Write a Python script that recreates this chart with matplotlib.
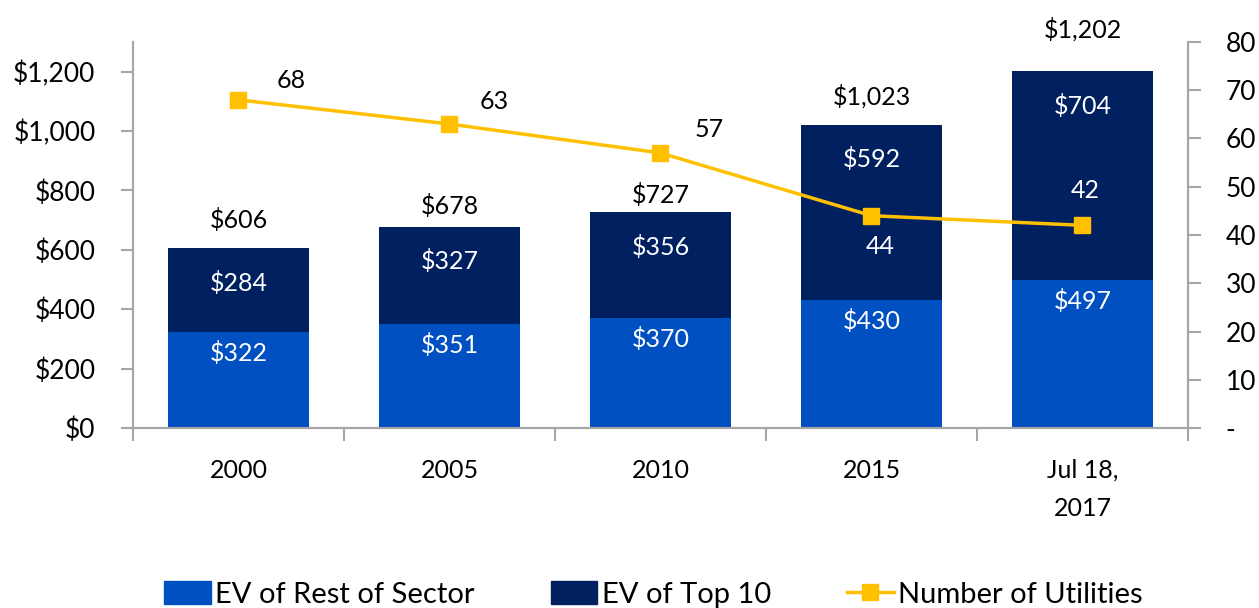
import numpy as np
import matplotlib.pyplot as plt
from matplotlib.patches import Patch
from matplotlib.lines import Line2D

plt.rcParams['font.family'] = ['Lato', 'DejaVu Sans']

# data
categories = ['2000', '2005', '2010', '2015', 'Jul 18,\n2017']
rest_of_sector = [322, 351, 370, 430, 497]
top_10 = [284, 327, 356, 592, 704]
totals = [606, 678, 727, 1023, 1202]
num_utilities = [68, 63, 57, 44, 42]

# colours
c_rest = '#0050C2'
c_top = '#002060'
c_line = '#FFC000'
c_axis = '#A6A6A6'

fig = plt.figure(figsize=(12.59, 6.08), dpi=100)
ax = fig.add_axes([0.1056, 0.296, 0.838, 0.635])
ax2 = ax.twinx()

x = np.arange(len(categories))
w = 0.67
ax.bar(x, rest_of_sector, w, color=c_rest, zorder=2)
ax.bar(x, top_10, w, bottom=rest_of_sector, color=c_top, zorder=2)

# labels inside bars
for i in range(len(x)):
    ax.annotate(f'${rest_of_sector[i]}', (x[i], rest_of_sector[i]), xytext=(0, -15),
                textcoords='offset points', ha='center', va='center', color='white', fontsize=18)
    ax.annotate(f'${top_10[i]}', (x[i], totals[i]), xytext=(0, -25),
                textcoords='offset points', ha='center', va='center', color='white', fontsize=18)

# totals above bars
tot_off = [20, 15, 12, 20, 30]
for i in range(len(x)):
    ax.annotate(f'${totals[i]:,}', (x[i], totals[i]), xytext=(0, tot_off[i]),
                textcoords='offset points', ha='center', va='center', color='black', fontsize=18)

# number of utilities line
ax2.plot(x, num_utilities, color=c_line, lw=2.5, marker='s', ms=11, zorder=3)
line_off = [(38, 14), (32, 16), (35, 17), (6, -22), (2, 25)]
line_col = ['black', 'black', 'black', 'white', 'white']
for i in range(len(x)):
    ax2.annotate(str(num_utilities[i]), (x[i], num_utilities[i]), xytext=line_off[i],
                 textcoords='offset points', ha='center', va='center', color=line_col[i], fontsize=18)

# axes
ax.set_xlim(-0.5, len(x) - 0.5)
ax.set_ylim(0, 1300)
ax2.set_ylim(0, 80)
ax.set_yticks(np.arange(0, 1201, 200))
ax.set_yticklabels([f'${v:,}' for v in range(0, 1201, 200)])
ax2.set_yticks(np.arange(0, 81, 10))
ax2.set_yticklabels(['-'] + [str(v) for v in range(10, 81, 10)])

ax.set_xticks(x)
ax.set_xticklabels(categories, linespacing=1.8)
ax.set_xticks(np.arange(-0.5, len(x)), minor=True)
ax.tick_params(axis='x', which='major', length=0, pad=22, labelsize=18)
ax.tick_params(axis='x', which='minor', length=9, color=c_axis, width=1.5)
ax.tick_params(axis='y', length=9, color=c_axis, width=1.5, labelsize=19, pad=18)
ax2.tick_params(axis='y', length=9, color=c_axis, width=1.5, labelsize=19, pad=18)

for a in (ax, ax2):
    a.spines['top'].set_visible(False)
    for s in ('left', 'right', 'bottom'):
        a.spines[s].set_color(c_axis)
        a.spines[s].set_linewidth(1.5)

# legend
handles = [Patch(color=c_rest), Patch(color=c_top),
           Line2D([], [], color=c_line, lw=2.5, marker='s', ms=11)]
fig.legend(handles, ['EV of Rest of Sector', 'EV of Top 10', 'Number of Utilities'],
           loc='center', bbox_to_anchor=(0.519, 0.022), ncol=3, frameon=False,
           fontsize=21, handlelength=1.6, handleheight=0.8, handletextpad=0.15,
           columnspacing=2.6)

fig.savefig('out.png', dpi=100)
